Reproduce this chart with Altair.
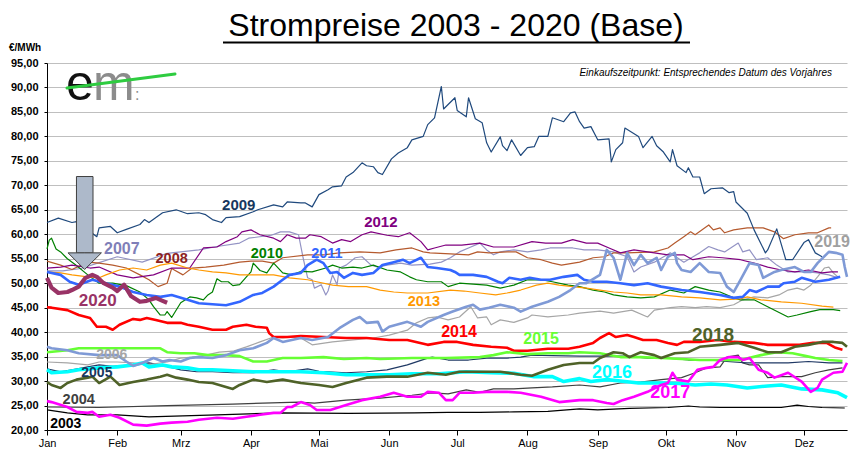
import altair as alt
import pandas as pd

month_days = [0, 31, 59, 90, 120, 151, 181, 212, 243, 273, 304, 334]
month_names = ["Jan", "Feb", "Mrz", "Apr", "Mai", "Jun", "Jul", "Aug", "Sep", "Okt", "Nov", "Dez"]
y_ticks = list(range(20, 96, 5))

# (day of year, EUR/MWh)
y2003 = [(0,24.1),(9,23.5),(18,23.1),(31,23.1),(45,22.7),(60,22.9),(75,23.1),(89,23.3),(104,23.5),(133,23.4),(162,23.5),(177,23.6),(191,23.6),(206,23.7),(221,23.8),(235,24.3),(243,24.1),(257,24.4),(274,24.6),(283,24.9),(288,24.7),(297,24.6),(312,24.6),(324,24.6),(331,25.1),(336,24.8),(342,24.6),(352,24.5)]
y2004 = [(0,24.7),(23,24.6),(53,25.0),(82,25.3),(111,25.7),(118,25.5),(132,26.1),(147,26.5),(161,27.1),(170,27.6),(177,27.4),(185,28.2),(191,27.7),(197,28.4),(206,28.4),(214,28.6),(223,28.8),(235,29.2),(244,28.8),(253,29.6),(262,29.8),(271,30.3),(280,30.7),(286,31.7),(291,32.7),(297,32.9),(300,34.9),(305,35.3),(307,33.7),(310,33.3),(314,33.3),(318,30.7),(324,30.9),(333,30.9),(339,31.7),(345,32.3),(351,32.7)]
y2005 = [(0,32.5),(6,31.9),(11,32.3),(18,32.9),(23,33.3),(29,33.0),(38,33.3),(45,33.7),(53,33.0),(59,32.3),(66,31.9),(73,31.9),(82,31.7),(91,31.7),(100,32.3),(106,31.9),(115,32.5),(120,32.0),(132,31.7),(141,31.9),(150,32.3),(159,33.3),(168,34.7),(170,34.9),(177,34.3),(186,34.3),(194,34.7),(203,34.7),(209,34.9),(214,35.3),(223,35.2),(235,35.1),(244,35.1),(256,35.1),(265,34.7),(274,34.7),(283,34.3),(292,34.3),(300,34.0),(309,33.7),(318,33.7),(327,33.7),(336,34.0),(345,33.7),(351,33.7)]
y2006 = [(0,33.9),(9,33.7),(18,33.3),(23,33.9),(31,33.9),(38,33.7),(44,33.3),(53,33.9),(59,34.7),(64,34.9),(70,35.3),(76,35.9),(82,36.1),(88,37.0),(94,38.0),(100,39.0),(104,38.8),(108,39.0),(112,38.8),(117,37.4),(126,38.0),(135,38.4),(144,38.8),(151,39.4),(159,40.4),(163,41.9),(168,42.9),(172,43.1),(177,42.5),(182,43.1),(187,45.2),(190,42.9),(194,43.1),(196,41.5),(200,42.5),(206,42.0),(212,42.9),(214,43.5),(221,43.1),(230,43.5),(235,43.9),(244,44.3),(250,43.9),(258,44.5),(265,43.1),(268,44.5),(275,45.0),(280,45.2),(286,45.0),(291,45.2),(297,45.0),(303,45.6),(307,46.6),(312,47.2),(318,47.0),(323,47.6),(327,48.6),(331,49.0),(334,48.6),(337,49.6),(340,51.3),(343,53.1),(345,53.3),(347,52.1),(349,51.3)]
y2007 = [(0,52.5),(7,52.5),(15,53.0),(23,54.2),(31,55.4),(42,54.3),(53,56.1),(67,56.8),(75,57.5),(85,58.2),(89,59.2),(99,59.8),(103,60.5),(107,60.5),(111,59.9),(113,55.2),(115,51.1),(117,50.7),(118,49.0),(121,49.7),(123,47.6),(124,48.4),(126,51.7),(128,49.7),(129,53.1),(132,53.7),(136,55.2),(139,55.4),(143,53.7),(146,53.3),(150,53.7),(156,54.1),(161,53.7),(169,53.9),(174,54.3),(178,55.2),(182,56.4),(187,57.4),(191,58.2),(194,56.8),(197,55.8),(200,56.4),(206,56.8),(212,56.4),(218,56.8),(222,57.2),(232,57.2),(237,56.8),(243,56.8),(250,56.4),(256,55.4),(259,52.3),(262,53.3),(268,54.3),(275,56.2),(281,54.3),(288,56.2),(292,57.5),(296,56.8),(299,56.4),(305,58.2),(307,56.4),(310,56.8),(313,54.8),(318,55.2),(322,53.7),(327,52.3),(336,52.3),(340,52.1),(345,51.7),(349,51.1)]
y2008 = [(0,54.5),(6,53.7),(11,52.8),(18,54.3),(23,54.1),(29,53.7),(35,53.1),(41,51.7),(45,50.7),(49,49.3),(53,50.0),(55,53.0),(60,51.7),(64,53.1),(70,53.3),(78,53.7),(85,54.3),(90,54.5),(95,54.5),(100,54.1),(104,55.2),(115,55.8),(122,55.8),(129,56.2),(138,56.4),(147,56.2),(154,56.8),(161,57.2),(166,56.4),(169,56.2),(178,56.0),(186,55.8),(190,56.4),(195,56.2),(203,56.4),(207,56.4),(212,55.2),(218,54.8),(223,54.1),(227,53.7),(235,54.3),(241,55.2),(246,55.4),(250,56.2),(256,56.2),(262,56.3),(268,56.4),(274,57.2),(277,58.2),(281,59.5),(284,60.5),(286,59.9),(292,61.9),(294,60.9),(297,61.3),(299,60.3),(303,60.9),(309,61.3),(316,61.3),(321,60.5),(325,59.1),(330,59.9),(336,60.3),(340,60.3),(345,61.3),(346,61.3)]
y2009 = [(0,62.4),(5,63.3),(11,62.4),(13,62.6),(22,59.5),(23,61.3),(28,61.6),(31,60.3),(35,61.0),(41,62.0),(43,63.0),(45,62.4),(51,64.4),(57,65.0),(62,64.2),(67,64.4),(70,64.0),(73,63.0),(77,62.4),(79,63.4),(85,63.6),(91,64.6),(93,65.0),(100,66.0),(104,65.6),(106,66.6),(112,66.4),(114,66.4),(117,65.6),(120,68.1),(124,69.1),(126,69.7),(130,69.9),(132,71.7),(135,72.6),(139,74.6),(141,74.0),(144,73.8),(146,72.6),(148,72.2),(152,75.4),(155,76.6),(159,77.7),(161,79.3),(166,80.0),(168,82.4),(171,83.8),(174,90.2),(175,85.6),(180,87.9),(181,85.3),(185,84.0),(186,87.9),(189,83.6),(192,82.8),(194,78.7),(196,76.8),(200,79.9),(201,78.1),(203,77.1),(205,79.3),(209,76.1),(212,77.7),(215,77.9),(217,80.0),(221,80.0),(223,83.8),(228,83.0),(231,84.8),(233,85.0),(235,83.0),(237,81.7),(240,82.0),(243,79.3),(248,79.5),(249,74.8),(251,77.3),(254,78.7),(255,81.7),(261,80.0),(263,77.7),(267,80.0),(269,78.1),(272,76.8),(275,74.8),(276,77.3),(278,74.0),(282,72.6),(283,73.6),(285,71.7),(288,71.7),(290,68.3),(293,69.3),(298,69.5),(301,68.5),(303,68.7),(304,66.6),(309,64.3),(312,60.9),(317,56.2),(318,56.8),(322,61.1),(326,54.8),(329,54.8),(334,58.3),(336,58.9),(339,56.2),(342,55.4)]
y2010 = [(0,57.0),(1,58.8),(2,59.2),(4,57.0),(6,56.4),(9,55.0),(13,53.6),(18,51.7),(23,50.0),(29,50.0),(35,49.5),(41,48.2),(45,46.6),(47,45.2),(50,43.5),(52,43.5),(53,44.2),(55,43.0),(59,46.0),(63,47.2),(66,47.0),(69,46.6),(71,47.6),(73,48.2),(75,50.9),(77,50.3),(80,50.3),(82,49.5),(85,49.7),(88,51.3),(90,52.3),(91,54.1),(94,52.6),(97,52.1),(100,54.1),(104,52.1),(108,51.7),(112,52.4),(117,52.3),(123,53.1),(126,53.7),(130,53.1),(135,53.3),(139,53.1),(144,53.7),(150,52.7),(156,52.3),(160,51.3),(163,50.7),(168,50.3),(174,50.3),(177,49.3),(182,50.0),(188,49.8),(194,49.6),(200,49.0),(206,49.6),(212,50.7),(218,50.7),(223,50.3),(230,49.6),(235,49.3),(241,48.6),(246,48.2),(250,47.6),(256,47.2),(262,47.0),(268,47.2),(275,48.6),(281,48.0),(286,49.3),(292,48.6),(297,48.2),(303,47.0),(306,46.6),(312,46.6),(318,45.2),(327,43.1),(331,43.5),(337,44.2),(341,44.6),(347,44.6),(350,44.4)]
y2011 = [(0,52.3),(6,51.7),(10,50.3),(14,49.7),(20,50.7),(26,50.0),(32,49.3),(38,48.2),(44,47.6),(50,47.2),(55,47.6),(62,46.6),(67,45.9),(73,45.7),(79,45.5),(85,46.2),(91,47.6),(95,48.0),(100,49.3),(104,50.7),(107,51.7),(112,52.1),(115,53.7),(119,54.8),(122,54.1),(125,52.1),(128,52.3),(131,51.1),(135,52.1),(139,51.7),(144,52.1),(148,53.7),(153,54.3),(157,54.8),(160,54.1),(165,55.2),(168,53.3),(172,53.1),(178,52.7),(180,52.3),(182,51.7),(188,51.7),(194,51.3),(199,50.3),(201,50.0),(204,51.1),(209,50.7),(213,51.1),(218,50.7),(222,50.7),(228,51.3),(234,51.7),(237,50.7),(241,50.3),(247,50.3),(253,50.0),(259,49.6),(265,50.0),(271,49.3),(280,48.6),(288,48.2),(297,47.6),(303,47.0),(307,47.2),(310,48.6),(313,48.2),(318,49.3),(323,49.3),(325,50.0),(330,50.3),(333,51.1),(339,50.3),(345,50.7),(350,51.3)]
y2012 = [(0,53.1),(6,53.3),(11,53.7),(19,53.1),(23,53.3),(31,51.7),(38,51.1),(47,51.7),(55,53.1),(63,53.1),(69,57.2),(75,57.4),(79,58.5),(84,59.5),(86,60.5),(90,60.9),(94,59.9),(100,59.2),(103,58.5),(106,59.9),(110,59.2),(114,59.2),(116,59.9),(121,59.5),(126,58.2),(130,58.9),(134,58.5),(139,59.9),(143,60.5),(150,59.8),(155,59.5),(160,60.3),(165,58.5),(168,56.8),(171,57.2),(176,57.8),(183,57.8),(191,58.2),(197,57.4),(206,57.4),(214,58.5),(220,58.2),(227,58.2),(232,58.9),(238,58.2),(243,58.2),(248,57.2),(253,56.2),(259,56.8),(265,56.4),(268,56.2),(274,55.8),(281,55.8),(285,54.8),(292,55.4),(298,55.2),(306,54.8),(312,54.1),(318,53.3),(324,52.7),(330,52.3),(336,52.7),(342,52.1),(346,52.3),(349,52.3)]
y2013 = [(0,52.3),(6,52.1),(11,51.7),(18,51.3),(23,51.1),(26,51.7),(32,52.7),(38,53.1),(44,52.7),(50,53.7),(55,54.1),(62,53.1),(67,52.7),(73,52.3),(79,52.1),(85,51.7),(94,51.7),(100,51.7),(107,51.1),(115,50.7),(119,50.3),(126,49.6),(133,49.3),(141,49.3),(147,48.6),(153,48.2),(159,48.0),(168,48.0),(178,48.6),(184,48.4),(191,48.0),(198,47.6),(203,48.0),(209,48.6),(216,49.6),(221,50.0),(226,49.6),(232,49.3),(238,49.0),(244,48.6),(250,48.2),(256,48.0),(262,47.6),(271,47.6),(280,47.2),(288,47.0),(297,46.6),(306,46.8),(309,47.2),(315,46.6),(324,46.2),(333,45.9),(342,45.3),(347,45.1)]
y2014 = [(0,45.1),(2,45.0),(9,44.5),(14,43.5),(19,42.9),(22,41.1),(26,41.1),(29,40.5),(32,41.5),(38,42.7),(41,42.5),(44,42.9),(48,42.5),(53,41.9),(59,41.9),(62,41.5),(67,41.1),(73,40.5),(79,40.5),(82,41.1),(88,41.5),(92,41.1),(97,40.9),(98,39.8),(100,39.0),(106,39.0),(112,39.2),(122,39.0),(132,38.8),(141,38.8),(151,38.4),(159,38.4),(168,37.4),(175,38.0),(181,38.0),(188,37.4),(196,37.0),(203,36.8),(206,36.2),(212,36.2),(221,36.6),(230,36.6),(235,37.0),(241,37.8),(244,38.8),(248,39.8),(251,39.0),(256,39.4),(259,39.0),(263,38.4),(269,38.4),(274,37.8),(278,37.4),(281,38.0),(288,38.0),(296,38.4),(303,38.0),(312,37.8),(318,37.4),(324,37.4),(332,37.4),(338,37.8),(344,37.8),(348,36.8),(351,36.4)]
y2015 = [(0,35.9),(9,36.3),(14,36.7),(23,36.7),(38,36.7),(50,36.7),(53,35.9),(59,35.7),(65,35.7),(71,35.3),(79,35.3),(85,35.1),(91,34.0),(97,34.0),(104,34.7),(112,34.7),(122,34.9),(131,34.5),(141,34.7),(147,34.5),(161,34.7),(176,34.7),(191,34.9),(197,35.3),(203,35.9),(212,35.5),(221,35.7),(230,35.7),(235,35.9),(244,35.7),(253,34.9),(262,34.9),(271,34.7),(280,34.5),(288,34.3),(297,34.3),(306,34.3),(315,35.3),(322,35.9),(329,35.7),(335,35.1),(339,34.7),(345,34.3),(351,34.1)]
y2016 = [(0,32.3),(2,31.7),(9,31.9),(14,32.3),(23,32.7),(31,32.9),(38,33.3),(42,33.7),(45,32.9),(51,33.3),(55,32.9),(62,32.7),(67,32.3),(73,32.3),(82,32.1),(91,31.9),(100,31.9),(112,31.9),(122,31.7),(132,31.3),(151,31.3),(161,31.5),(173,31.5),(185,31.9),(196,31.7),(206,31.6),(215,30.9),(223,30.9),(228,29.9),(235,30.5),(240,29.9),(247,30.3),(253,30.0),(261,29.6),(272,29.6),(279,29.5),(286,29.2),(293,29.4),(300,29.2),(309,28.6),(318,29.0),(324,29.2),(333,28.4),(342,28.2),(349,27.6),(353,26.6)]
y2017 = [(0,25.9),(2,25.7),(9,24.7),(13,23.7),(18,23.5),(20,23.7),(23,22.7),(28,23.1),(32,22.5),(38,21.1),(44,20.9),(50,21.3),(55,21.5),(62,21.7),(67,22.1),(75,22.5),(82,22.3),(88,22.7),(94,23.1),(100,23.5),(103,23.5),(106,24.7),(108,24.7),(112,25.7),(116,25.1),(119,24.1),(125,24.1),(132,25.1),(139,26.1),(147,26.8),(153,27.6),(159,26.8),(165,26.8),(168,27.8),(173,27.6),(176,26.1),(179,26.1),(182,27.6),(188,27.6),(194,27.8),(203,27.8),(209,27.6),(218,26.8),(226,25.7),(235,26.1),(241,26.1),(247,25.5),(250,25.3),(254,26.1),(259,26.8),(265,27.8),(271,29.2),(274,29.6),(276,31.7),(278,30.3),(283,29.9),(287,32.3),(291,32.7),(294,32.9),(297,34.3),(301,34.9),(305,34.9),(307,34.3),(310,34.7),(314,32.3),(318,31.7),(321,30.7),(327,31.7),(333,29.9),(337,27.8),(340,28.6),(342,30.3),(347,31.7),(351,31.9),(353,33.7)]
y2018 = [(0,29.8),(2,29.2),(6,28.6),(9,29.6),(13,30.3),(18,30.7),(20,30.9),(23,29.6),(28,30.9),(32,29.2),(38,29.8),(44,30.3),(50,30.9),(53,31.3),(57,30.7),(62,30.3),(67,29.8),(73,29.6),(79,28.8),(82,28.4),(85,29.2),(91,30.3),(97,29.8),(104,30.3),(112,29.6),(120,29.2),(126,28.8),(132,29.6),(141,30.7),(150,30.9),(159,30.9),(168,31.7),(176,31.3),(182,31.9),(191,31.9),(200,31.9),(209,31.3),(214,31.1),(221,32.3),(228,33.3),(235,33.7),(241,33.7),(244,34.7),(250,35.9),(254,35.7),(257,34.9),(262,35.9),(268,35.3),(271,34.7),(277,35.7),(283,35.9),(288,37.0),(297,37.4),(305,37.8),(312,36.8),(318,35.9),(324,35.9),(330,37.0),(336,37.4),(342,38.0),(347,38.0),(351,37.8),(353,37.0)]
y2019 = [(0,37.0),(2,36.7),(9,36.3),(14,35.7),(23,35.3),(31,35.3),(35,34.0),(38,33.1),(42,33.7),(47,34.7),(51,34.0),(54,34.3),(59,34.0),(63,34.7),(67,34.9),(73,34.7),(79,35.3),(85,36.3),(91,36.7),(97,37.8),(100,38.8),(104,38.0),(112,38.8),(117,38.4),(124,39.0),(129,40.8),(135,42.5),(138,43.1),(141,41.9),(146,42.1),(148,40.1),(151,41.1),(159,42.1),(165,41.1),(168,42.1),(175,43.5),(179,44.2),(185,45.2),(188,45.6),(191,44.6),(195,45.0),(200,45.6),(206,45.0),(209,44.2),(214,45.2),(221,46.2),(226,47.2),(231,48.6),(235,50.0),(238,50.0),(244,51.7),(247,56.8),(250,55.2),(253,50.7),(256,56.2),(259,53.7),(262,55.8),(265,54.1),(269,55.2),(271,52.7),(274,55.4),(277,56.2),(278,54.1),(280,52.7),(284,52.3),(288,54.1),(292,52.3),(297,52.1),(300,49.3),(303,48.2),(306,50.7),(310,54.1),(314,53.7),(316,51.1),(321,52.3),(324,52.7),(330,53.3),(334,52.3),(337,52.3),(340,54.1),(345,56.4),(348,56.2),(351,55.8),(352,53.3),(353,51.3)]
y2020 = [(0,51.1),(2,49.1),(5,48.0),(9,48.2),(11,48.6),(14,49.3),(17,51.1),(20,51.7),(22,51.3),(25,50.0),(29,49.1),(31,48.4),(34,49.7),(37,47.4),(41,46.2),(44,46.4),(48,47.0),(51,46.4),(53,46.0)]

series = {"2003": y2003, "2004": y2004, "2005": y2005, "2006": y2006, "2007": y2007,
          "2008": y2008, "2009": y2009, "2010": y2010, "2011": y2011, "2012": y2012,
          "2013": y2013, "2014": y2014, "2015": y2015, "2016": y2016, "2017": y2017,
          "2018": y2018, "2019": y2019, "2020": y2020}

line_colors = {"2003": "#000000", "2004": "#404040", "2005": "#1F3864", "2006": "#A6A6A6",
               "2007": "#9393C4", "2008": "#B55A2E", "2009": "#1F497D", "2010": "#008000",
               "2011": "#3366FF", "2012": "#800080", "2013": "#FF9900", "2014": "#FF0000",
               "2015": "#66FF33", "2016": "#00FFFF", "2017": "#FF00FF", "2018": "#4F6228",
               "2019": "#7F9AD6", "2020": "#993366"}
line_widths = {"2011": 2.6, "2014": 2.6, "2015": 2.6, "2016": 3.6, "2017": 2.6,
               "2018": 2.6, "2019": 2.6, "2020": 4.2}

# year labels: text, day, value, colour, font size
label_text = ["2003", "2004", "2005", "2006", "2007", "2008", "2009", "2010", "2011",
              "2012", "2013", "2014", "2015", "2016", "2017", "2018", "2019", "2020"]
label_day = [8.3, 14, 22, 28.6, 33, 55, 84.6, 97, 123.5, 147.3, 166.3, 181.8, 218, 249.3, 275, 293.9, 346.4, 22.4]
label_value = [21.3, 26.2, 31.7, 35.4, 57.0, 55.0, 66.0, 56.0, 56.0, 62.6, 46.2, 40.1, 38.6, 31.6, 27.6, 39.5, 58.5, 46.4]
label_color = ["#000000", "#404040", "#17375E", "#A6A6A6", "#7F7FB8", "#8E2222", "#17375E", "#008000",
               "#3366FF", "#800080", "#FF9900", "#FF0000", "#66FF33", "#00FFFF", "#FF00FF", "#4F6228",
               "#A0A0A0", "#993366"]
label_size = [14, 14.5, 14, 14, 16, 14.5, 15, 14.5, 14.5, 15, 14.5, 16, 16, 18, 18, 19, 16, 17]

FONT = "Liberation Sans"


def frame(years):
    rows = []
    for yr in years:
        for i, (d, v) in enumerate(series[yr]):
            rows.append({"year": yr, "day": d, "value": v, "i": i,
                         "col": line_colors[yr], "w": line_widths.get(yr, 1.2)})
    return pd.DataFrame(rows)


xscale = alt.Scale(domain=[0, 353], nice=False, zero=False)
yscale = alt.Scale(domain=[20, 95], nice=False, zero=False)

label_expr = "[" + ",".join("'%s'" % m for m in month_names) + "][indexof([" + ",".join(str(d) for d in month_days) + "], datum.value)]"

x_axis = alt.Axis(values=month_days, labelExpr=label_expr, title=None, grid=False,
                  domainColor="#000000", tickColor="#000000", tickSize=5, labelFont=FONT,
                  labelFontSize=11, labelColor="#000000", labelPadding=2, labelFlush=False)
y_axis = alt.Axis(values=y_ticks, labelExpr="replace(format(datum.value, '.2f'), '.', ',')",
                  title=None, grid=True, gridColor="#BFBFBF", gridWidth=1, domainColor="#000000",
                  tickColor="#000000", tickSize=3, labelFont=FONT, labelFontSize=11,
                  labelFontWeight="bold", labelColor="#000000", labelPadding=6)


def X(field):
    return alt.X(field, scale=xscale, axis=x_axis)


def Y(field):
    return alt.Y(field, scale=yscale, axis=y_axis)


def lines(years):
    return alt.Chart(frame(years)).mark_line(strokeJoin="round").encode(
        x=X("day:Q"),
        y=Y("value:Q"),
        detail="year:N",
        order="i:Q",
        color=alt.Color("col:N", scale=None),
        strokeWidth=alt.StrokeWidth("w:Q", scale=None),
    )


thin = lines(["2003", "2004", "2005", "2006", "2007", "2008", "2009", "2010", "2012", "2013"])
thick = lines(["2011", "2014", "2015", "2016", "2017", "2018", "2019"])
last = lines(["2020"])

# arrow pointing at the 2020 start
arrow_box = alt.Chart(pd.DataFrame({"day": [13.0], "d2": [20.3], "value": [56.2], "v2": [71.8]})).mark_rect(
    fill="#ADB9CA", stroke="#3F3F3F", strokeWidth=1).encode(
    x=X("day:Q"), x2="d2:Q", y=Y("value:Q"), y2="v2:Q")
arrow_head = alt.Chart(pd.DataFrame({"day": [9.3, 16.6, 24.0], "value": [56.2, 56.2, 56.2], "v2": [56.2, 52.8, 56.2]})).mark_area(
    fill="#ADB9CA", stroke="#3F3F3F", strokeWidth=1, opacity=1).encode(
    x=X("day:Q"), y=Y("value:Q"), y2="v2:Q")

labels = alt.Chart(pd.DataFrame({"t": label_text, "day": label_day, "value": label_value,
                                 "c": label_color, "s": label_size})).mark_text(
    font=FONT, fontWeight="bold", align="center", baseline="middle").encode(
    x=X("day:Q"),
    y=Y("value:Q"),
    text="t:N",
    color=alt.Color("c:N", scale=None),
    size=alt.Size("s:Q", scale=None))

one = pd.DataFrame({"k": [0]})
title = alt.Chart(one).mark_text(text="Strompreise 2003 - 2020 (Base)", font=FONT, fontSize=32,
                                 align="center", baseline="alphabetic", color="#000000").encode(
    x=alt.value(409), y=alt.value(-27))
underline = alt.Chart(one).mark_rule(color="#000000", strokeWidth=2).encode(
    x=alt.value(176), x2=alt.value(643), y=alt.value(-20.5), y2=alt.value(-20.5))
unit = alt.Chart(one).mark_text(text="€/MWh", font=FONT, fontSize=10, fontWeight="bold",
                                align="left", baseline="middle", color="#000000").encode(
    x=alt.value(-38), y=alt.value(-15))
note = alt.Chart(one).mark_text(text="Einkaufszeitpunkt: Entsprechendes Datum des Vorjahres",
                                font=FONT, fontSize=10, fontStyle="italic", align="right",
                                baseline="middle", color="#000000").encode(
    x=alt.value(785), y=alt.value(10))
logo_e = alt.Chart(one).mark_text(text="e", font=FONT, fontSize=50, align="left",
                                  baseline="alphabetic", color="#111111").encode(
    x=alt.value(19), y=alt.value(37))
logo_m = alt.Chart(one).mark_text(text="m", font=FONT, fontSize=50, align="left",
                                  baseline="alphabetic", color="#8C8C8C").encode(
    x=alt.value(46), y=alt.value(37))
logo_c = alt.Chart(one).mark_text(text=":", font=FONT, fontSize=16, align="left",
                                  baseline="alphabetic", color="#8C8C8C").encode(
    x=alt.value(88), y=alt.value(37))
swoosh = alt.Chart(one).mark_rule(color="#2ECC40", strokeWidth=3, strokeCap="round").encode(
    x=alt.value(20), x2=alt.value(128), y=alt.value(25), y2=alt.value(11))

chart = alt.layer(
    thin, thick, arrow_box, arrow_head, last, labels,
    title, underline, unit, note, logo_e, logo_m, logo_c, swoosh,
).properties(
    width=800, height=367,
    padding={"left": 39, "top": 55, "right": 5, "bottom": 20},
    autosize=alt.AutoSizeParams(type="none"),
    background="#FFFFFF",
).configure_view(stroke=None)

chart.save("out.html", embed_options={"renderer": "svg", "actions": False})
